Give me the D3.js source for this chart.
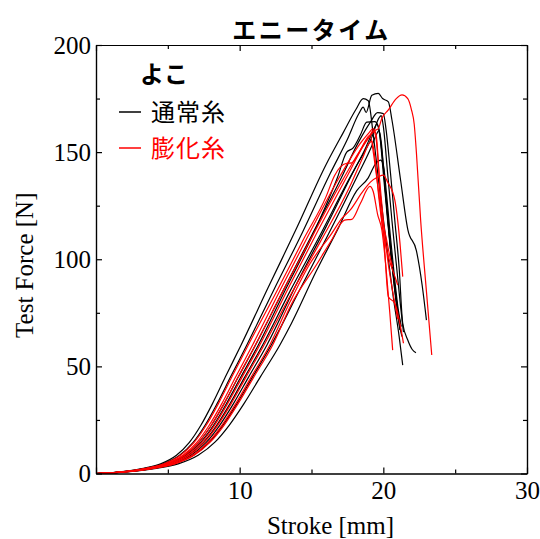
<!DOCTYPE html>
<html>
<head>
<meta charset="utf-8">
<script src="https://cdn.jsdelivr.net/npm/d3@7"></script>
<style>
  html, body { margin: 0; padding: 0; background: #fff; }
  svg { display: block; }
  .axis path, .axis line { stroke: #000; stroke-width: 1.2; }
  .axis text { font-family: "Liberation Serif", "Times New Roman", serif; font-size: 25px; fill: #000; }
</style>
</head>
<body>
<div id="chart"></div>
<script>
// tick values
const xMajor = [0, 10, 20, 30];
const xMinor = [5, 15, 25];
const yMajor = [0, 50, 100, 150, 200];
const yMinor = [25, 75, 125, 175];

// 通常糸 (black), [stroke mm, force N]
const black1 = [[0,0],[2.0,1],[3.2,2.3],[4.5,4.5],[5.6,8.5],[6.5,14.5],[7.3,22.5],[8.1,32.5],[9.0,45],[10.1,60],[12,87],[14,115],[16,144],[17.2,159],[18.1,170],[18.6,175],[18.95,174],[19.3,158],[19.7,135],[20.2,108],[20.7,82],[21.1,64],[21.35,50.6]];
const black2 = [[0,0],[2.08,1],[3.33,2.3],[4.68,4.5],[5.82,8.5],[6.76,14.5],[7.59,22.5],[8.42,32.5],[9.36,45],[10.5,60],[12.4,86],[14.4,113],[16.3,140],[17.5,156],[18.3,168],[18.6,171],[18.8,168.5],[19.2,176.5],[19.65,177.4],[19.95,175],[20.35,173.5],[20.6,165],[21.2,137],[21.7,114],[22.3,104],[22.7,88],[23.0,71.6]];
const black3 = [[0,0],[2.2,1],[3.52,2.3],[4.95,4.5],[6.16,8.5],[7.15,14.5],[8.03,22.5],[8.91,32.5],[9.9,45],[11.1,60],[13,85],[15,111],[17,137],[18.3,155],[19.1,164],[19.6,168.4],[20.0,168],[20.2,160],[20.5,140],[20.8,118],[21.1,96],[21.35,70],[21.7,62.3],[22.0,58],[22.27,56.4]];
const black4 = [[0,0],[2.24,1],[3.58,2.3],[5.04,4.5],[6.27,8.5],[7.28,14.5],[8.18,22.5],[9.07,32.5],[10.08,45],[11.3,60],[13.2,86],[15.2,113],[16.8,138],[17.45,150],[17.9,152],[18.4,158],[18.85,164],[19.4,164.2],[19.65,162],[19.9,150],[20.2,128],[20.5,105],[20.8,85],[21.1,70],[21.3,63.9]];
const black5 = [[0,0],[2.3,1],[3.68,2.3],[5.18,4.5],[6.44,8.5],[7.48,14.5],[8.4,22.5],[9.32,32.5],[10.35,45],[11.6,60],[13.5,85],[15.5,110],[17.5,136],[18.7,151],[19.3,160],[19.55,163],[19.75,158],[20.0,140],[20.3,118],[20.6,98],[20.9,82],[21.15,67]];
const black6 = [[0,0],[2.54,1],[4.06,2.3],[5.72,4.5],[7.11,8.5],[8.26,14.5],[9.27,22.5],[10.29,32.5],[11.43,45],[12.8,60],[13.6,70],[15.3,94],[16.9,115],[18.15,132],[18.95,138],[19.5,145],[19.8,146.3],[20.0,144],[20.2,132],[20.5,110],[20.8,90],[21.05,76],[21.25,68.5]];
const black7 = [[0,0],[2.36,1],[3.78,2.3],[5.31,4.5],[6.61,8.5],[7.67,14.5],[8.61,22.5],[9.56,32.5],[10.62,45],[11.9,60],[14,89],[16,115],[18,142],[19.2,157],[19.7,166],[19.85,167],[20.0,162],[20.3,140],[20.6,118],[20.9,98],[21.2,78],[21.4,66]];
const black8 = [[0,0],[2.42,1],[3.87,2.3],[5.45,4.5],[6.78,8.5],[7.87,14.5],[8.83,22.5],[9.8,32.5],[10.89,45],[12.2,60],[14.2,86],[16.2,112],[18.2,139],[19.2,153],[19.5,158],[19.7,160],[19.85,155],[20.1,135],[20.4,112],[20.7,92],[21.0,76],[21.2,70]];

// 膨化糸 (red)
const red1 = [[0,0],[2.26,1],[3.62,2.3],[5.09,4.5],[6.33,8.5],[7.35,14.5],[8.25,22.5],[9.15,32.5],[10.17,45],[11.4,60],[13.5,88],[15.5,114],[17.5,139],[18.8,155],[19.4,160],[19.65,161],[19.9,165.8],[20.35,169.7],[20.9,175],[21.3,176.7],[21.7,175],[21.95,170],[22.15,163],[22.3,150],[22.6,118],[23.0,85],[23.37,55.3]];
const red2 = [[0,0],[2.16,1],[3.46,2.3],[4.86,4.5],[6.05,8.5],[7.02,14.5],[7.88,22.5],[8.75,32.5],[9.72,45],[10.9,60],[13,88],[15,114],[17,139],[18.5,155],[19.0,159],[19.3,161],[19.5,158],[19.7,140],[19.85,121],[20.0,113],[20.35,82.5],[20.8,79.4],[21.4,60.8]];
const red3 = [[0,0],[2.2,1],[3.52,2.3],[4.95,4.5],[6.16,8.5],[7.15,14.5],[8.03,22.5],[8.91,32.5],[9.9,45],[11.1,60],[13,85],[15,110],[17,135],[18.4,151],[19.1,158],[19.3,150],[19.6,135],[19.9,120],[20.2,110],[20.5,100],[20.65,96.5]];
const red4 = [[0,0],[2.32,1],[3.71,2.3],[5.22,4.5],[6.5,8.5],[7.54,14.5],[8.47,22.5],[9.4,32.5],[10.44,45],[11.7,60],[13.6,84],[15.6,108],[17.6,133],[18.6,148],[19.0,154],[19.2,155],[19.4,148],[19.7,128],[20.0,112],[20.4,100],[20.8,92],[21.0,88]];
const red5 = [[0,0],[2.1,1],[3.36,2.3],[4.73,4.5],[5.88,8.5],[6.83,14.5],[7.67,22.5],[8.51,32.5],[9.45,45],[10.6,60],[12.5,84],[14.5,110],[16.0,129],[16.6,139],[17.0,143],[17.45,144.8],[17.8,145],[18.5,152],[19.0,157],[19.3,160],[19.5,156],[19.7,140],[20.0,118],[20.3,100],[20.65,85],[21.0,72]];
const red6 = [[0,0],[2.44,1],[3.9,2.3],[5.49,4.5],[6.83,8.5],[7.93,14.5],[8.91,22.5],[9.88,32.5],[10.98,45],[12.3,60],[13.6,79],[15.4,98],[16.4,109],[17.3,118.3],[17.8,118.6],[18.4,126],[19.07,134],[19.3,131.5],[19.6,121],[19.9,113.6],[20.2,95],[20.45,75],[20.65,57.6]];
const red7 = [[0,0],[2.4,1],[3.84,2.3],[5.4,4.5],[6.72,8.5],[7.8,14.5],[8.76,22.5],[9.72,32.5],[10.8,45],[12.1,60],[13.5,80],[14.9,98],[16.4,112],[17.1,119],[17.7,123],[18.5,131],[19.1,136],[19.65,138.5],[20.0,139.3],[20.3,136],[20.8,127.6],[21.16,107.4],[21.35,91.9]];

const blackRuns = [black1, black2, black3, black4, black5, black6, black7, black8];
const redRuns = [red1, red2, red3, red4, red5, red6, red7];

const width = 540, height = 539;
const margin = {top: 45, right: 13, bottom: 65.5, left: 96};
const innerW = width - margin.left - margin.right;
const innerH = height - margin.top - margin.bottom;

const svg = d3.select("#chart").append("svg")
  .attr("width", width)
  .attr("height", height);

const g = svg.append("g")
  .attr("transform", "translate(" + margin.left + "," + margin.top + ")");

const x = d3.scaleLinear().domain([0, 30]).range([0, innerW]);
const y = d3.scaleLinear().domain([0, 200]).range([innerH, 0]);

const line = d3.line()
  .x(function(d) { return x(d[0]); })
  .y(function(d) { return y(d[1]); })
  .curve(d3.curveMonotoneX);

// curves, red drawn over black
g.selectAll(".black-run")
  .data(blackRuns)
  .enter().append("path")
    .attr("class", "black-run")
    .attr("d", line)
    .attr("fill", "none")
    .attr("stroke", "#000")
    .attr("stroke-width", 1.2)
    .attr("stroke-linejoin", "round");

g.selectAll(".red-run")
  .data(redRuns)
  .enter().append("path")
    .attr("class", "red-run")
    .attr("d", line)
    .attr("fill", "none")
    .attr("stroke", "#ff0000")
    .attr("stroke-width", 1.2)
    .attr("stroke-linejoin", "round");

// axes: ticks point inward on all four sides
g.append("g")
  .attr("class", "axis")
  .attr("transform", "translate(0," + innerH + ")")
  .call(d3.axisBottom(x).tickValues(xMajor).tickSizeInner(-6).tickSizeOuter(0).tickPadding(8)
    .tickFormat(function(d) { return d === 0 ? "" : d; }));

g.append("g")
  .attr("class", "axis")
  .attr("transform", "translate(0," + innerH + ")")
  .call(d3.axisBottom(x).tickValues(xMinor).tickSizeInner(-4).tickSizeOuter(0).tickFormat(""));

g.append("g")
  .attr("class", "axis")
  .call(d3.axisTop(x).tickValues(xMajor).tickSizeInner(-6).tickSizeOuter(0).tickFormat(""));

g.append("g")
  .attr("class", "axis")
  .call(d3.axisTop(x).tickValues(xMinor).tickSizeInner(-4).tickSizeOuter(0).tickFormat(""));

g.append("g")
  .attr("class", "axis")
  .call(d3.axisLeft(y).tickValues(yMajor).tickSizeInner(-6).tickSizeOuter(0).tickPadding(5));

g.append("g")
  .attr("class", "axis")
  .call(d3.axisLeft(y).tickValues(yMinor).tickSizeInner(-4).tickSizeOuter(0).tickFormat(""));

g.append("g")
  .attr("class", "axis")
  .attr("transform", "translate(" + innerW + ",0)")
  .call(d3.axisRight(y).tickValues(yMajor).tickSizeInner(-6).tickSizeOuter(0).tickFormat(""));

g.append("g")
  .attr("class", "axis")
  .attr("transform", "translate(" + innerW + ",0)")
  .call(d3.axisRight(y).tickValues(yMinor).tickSizeInner(-4).tickSizeOuter(0).tickFormat(""));

// axis titles
svg.append("text")
  .attr("x", margin.left + innerW / 2 + 19)
  .attr("y", 534)
  .attr("text-anchor", "middle")
  .style("font-family", "'Liberation Serif', 'Times New Roman', serif")
  .style("font-size", "25px")
  .text("Stroke [mm]");

svg.append("text")
  .attr("transform", "translate(33," + (margin.top + innerH / 2 + 6) + ") rotate(-90)")
  .attr("text-anchor", "middle")
  .style("font-family", "'Liberation Serif', 'Times New Roman', serif")
  .style("font-size", "25px")
  .text("Test Force [N]");

// title
svg.append("text")
  .attr("x", margin.left + innerW / 2)
  .attr("y", 28)
  .attr("text-anchor", "middle")
  .attr("dominant-baseline", "central")
  .style("font-family", "'Noto Sans CJK JP', sans-serif")
  .style("font-weight", "bold")
  .style("font-size", "24px")
  .style("letter-spacing", "2.5px")
  .text("エニータイム");

// legend
const legend = svg.append("g");

legend.append("text")
  .attr("x", 140)
  .attr("y", 72)
  .attr("dominant-baseline", "central")
  .style("font-family", "'Noto Sans CJK JP', sans-serif")
  .style("font-weight", "bold")
  .style("font-size", "24px")
  .text("よこ");

const legendItems = [
  {label: "通常糸", color: "#000", cy: 110},
  {label: "膨化糸", color: "#ff0000", cy: 146}
];

legendItems.forEach(function(item) {
  legend.append("line")
    .attr("x1", 119).attr("x2", 141)
    .attr("y1", item.cy + 2).attr("y2", item.cy + 2)
    .attr("stroke", item.color)
    .attr("stroke-width", 1.5);
  legend.append("text")
    .attr("x", 151)
    .attr("y", item.cy)
    .attr("dominant-baseline", "central")
    .style("font-family", "'Noto Sans CJK JP', sans-serif")
    .style("font-size", "24px")
    .style("letter-spacing", "1px")
    .style("fill", item.color)
    .text(item.label);
});
</script>
</body>
</html>
